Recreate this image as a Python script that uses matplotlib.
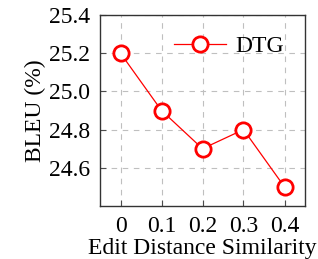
import matplotlib
matplotlib.use("Agg")
import matplotlib.pyplot as plt

# data
sim = [0, 0.1, 0.2, 0.3, 0.4]
bleu = [25.2, 24.9, 24.7, 24.8, 24.5]
xticks = [0, 0.1, 0.2, 0.3, 0.4]
xticklabels = ["0", "0.1", "0.2", "0.3", "0.4"]
yticks = [24.6, 24.8, 25.0, 25.2, 25.4]

plt.rcParams['font.family'] = ['Liberation Serif', 'DejaVu Serif']
plt.rcParams['mathtext.fontset'] = 'stix'

fig = plt.figure(figsize=(3.18, 2.59), dpi=100)
ax = fig.add_axes([100/318, 1 - 206/259, 205/318, 191/259])

ax.plot(sim, bleu, color='red', lw=0.9, marker='o', ms=11, mfc='white',
        mec='red', mew=2, label='DTG', zorder=3)

ax.set_xlim(-0.05, 0.45)
ax.set_ylim(24.4, 25.4)
ax.set_xticks(xticks)
ax.set_xticklabels(xticklabels)
ax.set_yticks(yticks)
ax.set_yticklabels(["%.1f" % v for v in yticks])
ax.tick_params(direction='in', labelsize=17, length=4, color='0.3', pad=7)
ax.grid(True, ls=(0, (5, 5)), color='0.75', lw=0.8)
for s in ax.spines.values():
    s.set_color('0.2')
    s.set_linewidth(1.0)

ax.set_xlabel("Edit Distance Similarity", fontsize=17, labelpad=1)
ax.set_ylabel("BLEU (%)", fontsize=17, labelpad=2)
ax.legend(loc='upper right', fontsize=17, frameon=False, handlelength=2.2,
          borderaxespad=0.4, handletextpad=0.4, bbox_to_anchor=(0.99, 0.99))

fig.savefig("out.png", dpi=100)
